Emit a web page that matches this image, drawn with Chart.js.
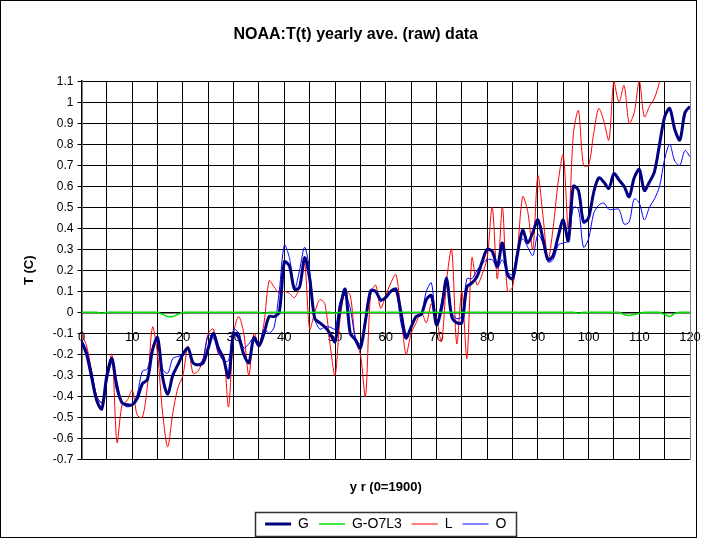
<!DOCTYPE html>
<html>
<head>
<meta charset="utf-8">
<script src="https://cdn.jsdelivr.net/npm/chart.js@4"></script>
<style>
  body { margin: 0; background: #fff; }
  #wrap { width: 707px; height: 544px; position: relative; }
</style>
</head>
<body>
<div id="wrap"><canvas id="myGrafico"></canvas></div>
<script>
// years since 1900
var years = [];
for (let i = 0; i <= 120; i++) { years.push(i); }

var serieG = [
  -0.14,-0.20,-0.31,-0.42,-0.46,-0.30,-0.22,-0.36,-0.43,-0.44,
  -0.44,-0.41,-0.34,-0.32,-0.18,-0.12,-0.31,-0.39,-0.30,-0.25,
  -0.20,-0.17,-0.24,-0.25,-0.24,-0.17,-0.10,-0.17,-0.22,-0.31,
  -0.10,-0.12,-0.20,-0.24,-0.12,-0.16,-0.10,-0.02,-0.02,0.00,
  0.24,0.22,0.11,0.12,0.26,0.16,-0.03,-0.05,-0.07,-0.10,
  -0.14,0.02,0.11,-0.10,-0.13,-0.17,-0.04,0.10,0.10,0.06,
  0.07,0.10,0.11,0.00,-0.12,-0.07,-0.02,-0.01,0.06,0.08,
  -0.06,0.02,0.16,-0.02,-0.05,-0.05,0.12,0.14,0.17,0.24,
  0.30,0.29,0.22,0.33,0.18,0.16,0.28,0.39,0.33,0.38,
  0.44,0.35,0.25,0.27,0.36,0.44,0.34,0.60,0.58,0.43,
  0.45,0.57,0.64,0.62,0.59,0.66,0.63,0.60,0.55,0.64,
  0.68,0.58,0.62,0.67,0.80,0.93,0.97,0.87,0.82,0.95,
  0.98
];
var serieGO7L3 = [
  0,0,0,0,-0.005,0,0,0,0,0,
  0,0,0,0,0,0,-0.01,-0.02,-0.02,-0.01,
  0,0,0,0,0,0,0,0,0,0,
  0,0,0,0,0,0,-0.005,0,0,0,
  0,0,0,0,0,0,0,0,0,0,
  -0.005,0,0,0,0,0,0,0,0,0,
  0,0,0,0,0,0,0,0,0,0,
  0,0,0,0,0,0,0,0,0,0,
  0,0,0,0,0,0,0,0,0,0,
  0,0,0,0,0,0,0,0,-0.005,0,
  0,0,0,0,0,0,0,-0.01,-0.015,-0.01,
  -0.005,0,0,0,0,-0.01,-0.02,-0.005,0,0,
  0
];
var serieL = [
  -0.10,-0.16,-0.28,-0.40,-0.43,-0.32,-0.20,-0.62,-0.44,-0.42,
  -0.37,-0.49,-0.50,-0.35,-0.07,-0.20,-0.48,-0.64,-0.48,-0.36,
  -0.30,-0.16,-0.29,-0.28,-0.22,-0.10,-0.08,-0.20,-0.20,-0.45,
  -0.10,-0.02,-0.10,-0.30,-0.10,-0.15,-0.05,0.15,0.12,0.09,
  0.10,0.09,0.07,0.12,0.23,-0.08,0.00,0.06,0.04,-0.15,
  -0.30,-0.03,0.10,0.08,-0.13,-0.20,-0.40,0.08,0.13,0.02,
  0.08,0.14,0.18,0.00,-0.20,-0.10,-0.05,0.00,-0.05,0.04,
  -0.03,-0.14,0.15,0.30,-0.15,0.10,-0.22,0.26,0.13,0.18,
  0.26,0.50,0.16,0.50,0.10,0.12,0.30,0.55,0.48,0.30,
  0.65,0.46,0.25,0.40,0.62,0.75,0.40,0.85,0.96,0.70,
  0.70,0.85,0.97,0.91,0.82,1.10,1.00,1.08,0.90,0.95,
  1.10,0.93,0.98,1.02,1.10,1.25,1.30,1.25,1.30,1.35,
  1.30
];
var serieO = [
  -0.13,-0.18,-0.28,-0.40,-0.43,-0.33,-0.24,-0.33,-0.43,-0.45,
  -0.44,-0.39,-0.28,-0.27,-0.17,-0.12,-0.27,-0.29,-0.22,-0.21,
  -0.20,-0.17,-0.24,-0.25,-0.22,-0.11,-0.12,-0.19,-0.23,-0.23,
  -0.08,-0.10,-0.17,-0.15,-0.12,-0.15,-0.08,-0.10,-0.07,0.10,
  0.32,0.26,0.11,0.20,0.31,0.20,-0.03,-0.08,-0.07,-0.07,
  -0.08,0.05,0.08,0.02,-0.12,-0.15,-0.03,0.11,0.10,0.05,
  0.08,0.10,0.11,-0.05,-0.13,-0.07,-0.02,-0.01,0.10,0.14,
  -0.05,0.05,0.17,0.00,-0.03,-0.02,0.16,0.16,0.20,0.23,
  0.25,0.25,0.21,0.25,0.19,0.18,0.30,0.35,0.31,0.27,
  0.37,0.33,0.24,0.25,0.32,0.33,0.34,0.50,0.49,0.31,
  0.35,0.47,0.51,0.52,0.49,0.49,0.49,0.42,0.43,0.54,
  0.52,0.44,0.50,0.54,0.60,0.73,0.80,0.72,0.70,0.77,
  0.74
];

function pontos(arr) {
  return years.map(function (x, i) { return { x: x, y: arr[i] }; });
}

var fonte = "'Liberation Sans', Arial, sans-serif";

var moldura = {
  id: 'moldura',
  afterDraw: function (chart) {
    var ctx = chart.ctx;
    ctx.save();
    // outer frame
    ctx.strokeStyle = '#000';
    ctx.lineWidth = 1;
    ctx.strokeRect(0.5, 0.5, 696, 537);
    // plot area right edge (gray)
    var a = chart.chartArea;
    ctx.strokeStyle = '#808080';
    ctx.beginPath();
    ctx.moveTo(a.right + 0.5, a.top);
    ctx.lineTo(a.right + 0.5, a.bottom);
    ctx.stroke();
    // legend box
    var hb = chart.legend.legendHitBoxes;
    if (hb && hb.length) {
      var x0 = Infinity, x1 = -Infinity, y0 = Infinity, y1 = -Infinity;
      hb.forEach(function (b) {
        x0 = Math.min(x0, b.left); x1 = Math.max(x1, b.left + b.width);
        y0 = Math.min(y0, b.top); y1 = Math.max(y1, b.top + b.height);
      });
      ctx.strokeStyle = '#333';
      ctx.lineWidth = 1.5;
      ctx.strokeRect(Math.round(x0 - 10) + 0.5, Math.round(y0 - 5) + 0.5, Math.round(x1 - x0 + 20), Math.round(y1 - y0 + 10));
    }
    ctx.restore();
  }
};

var ctx = document.getElementById('myGrafico').getContext('2d');
var chart = new Chart(ctx, {
  type: 'line',
  data: {
    datasets: [
      { label: 'G', data: pontos(serieG), borderColor: '#000080', backgroundColor: '#000080', borderWidth: 3, order: 1 },
      { label: 'G-O7L3', data: pontos(serieGO7L3), borderColor: '#00e000', backgroundColor: '#00e000', borderWidth: 1.5, order: 0 },
      { label: 'L', data: pontos(serieL), borderColor: '#ff0000', backgroundColor: '#ff0000', borderWidth: 1, order: 3 },
      { label: 'O', data: pontos(serieO), borderColor: '#0000ff', backgroundColor: '#0000ff', borderWidth: 1, order: 2 }
    ]
  },
  options: {
    responsive: true,
    maintainAspectRatio: false,
    animation: false,
    elements: { point: { radius: 0 }, line: { tension: 0.3 } },
    layout: { padding: { left: 21.5, right: 17, top: 0, bottom: 3 } },
    plugins: {
      title: {
        display: true,
        text: 'NOAA:T(t) yearly ave. (raw) data',
        color: '#000',
        font: { family: fonte, size: 16, weight: 'bold' },
        padding: { top: 25, bottom: 37 }
      },
      subtitle: {
        display: true,
        position: 'bottom',
        fullSize: false,
        weight: 500,
        text: 'y r (0=1900)',
        color: '#000',
        font: { family: fonte, size: 13, weight: 'bold' },
        padding: { top: 20, bottom: 12 }
      },
      legend: {
        position: 'bottom',
        fullSize: false,
        labels: {
          color: '#000',
          font: { family: fonte, size: 14 },
          usePointStyle: true,
          pointStyle: 'line',
          pointStyleWidth: 26,
          padding: 10,
          sort: function (a, b) { return a.datasetIndex - b.datasetIndex; }
        }
      },
      tooltip: { enabled: false }
    },
    scales: {
      x: {
        type: 'linear',
        position: { y: 0 },
        min: 0,
        max: 120,
        afterFit: function (scale) { scale.paddingLeft = 0; scale.paddingRight = 0; },
        grid: {
          color: '#000',
          lineWidth: 1,
          tickLength: 5,
          tickColor: function (c) { return c.tick && c.tick.value % 10 === 0 ? '#000' : 'rgba(0,0,0,0)'; }
        },
        border: { color: '#000', width: 1.5 },
        ticks: {
          stepSize: 5,
          autoSkip: false,
          maxRotation: 0,
          padding: 12,
          color: '#000',
          font: { family: fonte, size: 13 },
          callback: function (v) { return v % 10 === 0 ? v : ''; }
        }
      },
      y: {
        min: -0.7,
        max: 1.1,
        afterFit: function (scale) { scale.width = 60; },
        grid: { color: '#000', lineWidth: 1, tickLength: 4 },
        border: { color: '#000', width: 1.5 },
        ticks: {
          stepSize: 0.1,
          padding: 4,
          color: '#000',
          font: { family: fonte, size: 12 },
          callback: function (v) {
            var r = Math.round(v * 10) / 10;
            return r === 0 ? '0' : String(r);
          }
        },
        title: {
          display: true,
          text: 'T (C)',
          color: '#000',
          font: { family: fonte, size: 13, weight: 'bold' },
          padding: { top: 0, bottom: 0 }
        }
      }
    }
  },
  plugins: [moldura]
});
</script>
</body>
</html>
